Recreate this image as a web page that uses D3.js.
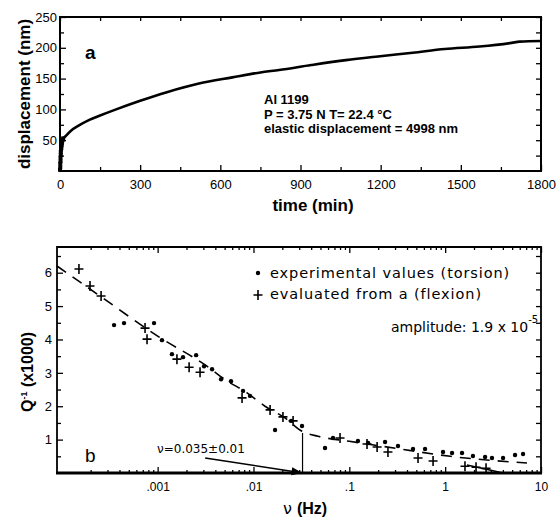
<!DOCTYPE html>
<html><head><meta charset="utf-8">
<script src="https://cdn.jsdelivr.net/npm/d3@7"></script>
<style>body{margin:0;background:#fff}svg{display:block}</style>
</head><body>
<svg id="c" width="558" height="519"></svg>
<script>
// ---------- Panel a : creep curve ----------
const timeMin = [0, 1, 2, 3, 5, 8, 12, 22, 40, 71, 110, 150, 210, 300, 400, 520, 645, 750, 820, 940, 1070, 1190, 1320, 1440, 1570, 1690, 1720, 1800];
const dispNm  = [0, 8, 18, 28, 38, 46, 52, 57, 65, 74, 83, 90, 100, 114, 128, 142, 152, 160, 164, 172, 180, 186, 192, 198, 202, 208, 210, 211];
const earlyTime = [0, 1, 1, 2, 2, 3, 3, 4, 5, 6, 7, 8, 10, 12];
const earlyDisp = [2, 6, 12, 16, 22, 26, 31, 35, 38, 42, 45, 48, 51, 53];
const timeTicks = [0, 300, 600, 900, 1200, 1500, 1800];
const timeMinor = [150, 450, 750, 1050, 1350, 1650];
const dispTicks = [50, 100, 150, 200, 250];
const dispMinor = [25, 75, 125, 175, 225];
const annotLines = ["Al 1199", "P = 3.75 N T= 22.4 °C", "elastic displacement = 4998 nm"];

// ---------- Panel b : internal friction ----------
const torsionFreq = [3.51e-4, 4.46e-4, 9.17e-4, 1.11e-3, 1.41e-3, 1.84e-3, 2.52e-3, 3.05e-3, 3.70e-3, 4.59e-3, 5.83e-3, 7.78e-3, 9.2e-3, 0.0168, 0.0247, 0.0321, 0.0558, 0.0676, 0.123, 0.157, 0.236, 0.322, 0.462, 0.617, 0.95, 1.18, 1.50, 1.95, 2.61, 3.08, 4.02, 5.36, 6.50];
const torsionQ    = [4.43, 4.49, 4.49, 3.98, 3.56, 3.47, 3.53, 3.20, 3.11, 2.81, 2.75, 2.46, 2.31, 1.29, 1.56, 1.41, 0.75, 1.05, 0.96, 0.90, 0.93, 0.81, 0.72, 0.72, 0.63, 0.60, 0.60, 0.51, 0.48, 0.45, 0.45, 0.54, 0.57];
const flexionFreq = [1.51e-4, 1.97e-4, 2.57e-4, 7.39e-4, 7.75e-4, 1.59e-3, 2.13e-3, 2.77e-3, 7.60e-3, 0.0149, 0.0203, 0.0259, 0.080, 0.153, 0.195, 0.253, 0.521, 0.748, 1.61, 2.10, 2.67];
const flexionQ    = [6.11, 5.60, 5.30, 4.34, 4.01, 3.41, 3.17, 3.02, 2.25, 1.89, 1.68, 1.56, 1.05, 0.87, 0.78, 0.63, 0.45, 0.36, 0.20, 0.17, 0.14];
const fitFreq = [8.91e-5, 2.51e-4, 1e-3, 3.27e-3, 5.05e-3, 8.57e-3, 0.0132, 0.0213, 0.0321, 0.0471, 0.1, 0.339, 1.13, 7.14];
const fitQ    = [6.2, 5.3, 4.1, 3.2, 2.8, 2.4, 2.0, 1.65, 1.25, 1.1, 0.95, 0.72, 0.5, 0.3];
const tailFreq = [1.69, 2.61, 4.02];
const tailQ    = [0.24, 0.12, 0.0];
const freqTicks = [0.001, 0.01, 0.1, 1, 10];
const freqTickLabels = [".001", ".01", ".1", "1", "10"];
const qTicks = [1, 2, 3, 4, 5, 6];
const qMinor = [0.5, 1.5, 2.5, 3.5, 4.5, 5.5, 6.5];
const nuFreq = 0.0325, nuTopQ = 1.2;
const arrowStart = [3.13e-3, 0.45];
const legendLabels = ["experimental values (torsion)", "evaluated from a (flexion)"];

const svg = d3.select("#c");
const SANS = "'Liberation Sans', Arial, Helvetica, sans-serif";
const GEN = "'DejaVu Sans', Verdana, sans-serif";

// ===== Panel a =====
const A = {l: 60, r: 541, t: 17, b: 171};
const xa = d3.scaleLinear([0, 1800], [A.l, A.r]);
const ya = d3.scaleLinear([0, 250], [A.b, A.t]);
const ga = svg.append("g");

function styleAxis(g, fs) {
  g.select(".domain").remove();
  g.selectAll(".tick line").attr("stroke", "#000").attr("stroke-width", 1.3);
  g.selectAll("text").attr("font-family", SANS).attr("font-size", fs).attr("fill", "#000");
}
ga.append("g").attr("transform", `translate(0,${A.b})`)
  .call(d3.axisBottom(xa).tickValues(timeTicks).tickSize(-6).tickPadding(9).tickFormat(d3.format("d")))
  .call(g => styleAxis(g, 13));
ga.append("g").attr("transform", `translate(0,${A.b})`)
  .call(d3.axisBottom(xa).tickValues(timeMinor).tickSize(-4).tickFormat(""))
  .call(g => styleAxis(g, 13));
ga.append("g").attr("transform", `translate(0,${A.t})`)
  .call(d3.axisTop(xa).tickValues(timeTicks.concat(timeMinor)).tickSize(-4).tickFormat(""))
  .call(g => styleAxis(g, 13));
ga.append("g").attr("transform", `translate(${A.l},0)`)
  .call(d3.axisLeft(ya).tickValues(dispTicks).tickSize(-6).tickPadding(3).tickFormat(d3.format("d")))
  .call(g => styleAxis(g, 13));
ga.append("g").attr("transform", `translate(${A.l},0)`)
  .call(d3.axisLeft(ya).tickValues(dispMinor).tickSize(-4).tickFormat(""))
  .call(g => styleAxis(g, 13));
ga.append("g").attr("transform", `translate(${A.r},0)`)
  .call(d3.axisRight(ya).tickValues(dispTicks.concat(dispMinor)).tickSize(-5).tickFormat(""))
  .call(g => styleAxis(g, 13));
ga.append("rect").attr("x", A.l).attr("y", A.t).attr("width", A.r - A.l).attr("height", A.b - A.t)
  .attr("fill", "none").attr("stroke", "#000").attr("stroke-width", 2);

const creep = timeMin.map((t, i) => [t, dispNm[i]]);
ga.append("path").datum(creep)
  .attr("d", d3.line().x(d => xa(d[0])).y(d => ya(d[1])).curve(d3.curveMonotoneX))
  .attr("fill", "none").attr("stroke", "#000").attr("stroke-width", 2.6);
ga.selectAll("rect.early").data(earlyTime.map((t, i) => [t, earlyDisp[i]])).join("rect")
  .attr("class", "early")
  .attr("x", d => xa(d[0]) - 2).attr("y", d => ya(d[1]) - 2).attr("width", 4).attr("height", 4)
  .attr("fill", "#000");

ga.append("text").attr("x", 85).attr("y", 59).attr("font-family", SANS).attr("font-weight", "bold")
  .attr("font-size", 19).text("a");
ga.append("g").selectAll("text").data(annotLines).join("text")
  .attr("x", 264).attr("y", (d, i) => 104 + i * 14.5)
  .attr("font-family", SANS).attr("font-weight", "bold").attr("font-size", 13).text(d => d);
ga.append("text").attr("transform", "translate(30,94) rotate(-90)").attr("text-anchor", "middle")
  .attr("font-family", SANS).attr("font-weight", "bold").attr("font-size", 17).text("displacement (nm)");
ga.append("text").attr("x", 313).attr("y", 211).attr("text-anchor", "middle")
  .attr("font-family", SANS).attr("font-weight", "bold").attr("font-size", 17).text("time (min)");

// ===== Panel b =====
const B = {l: 57, r: 541, t: 247, b: 473};
const xb = d3.scaleLog([Math.pow(10, -4.05), 10], [B.l, B.r]);
const yb = d3.scaleLinear([0, 6.77], [B.b, B.t]);
const gb = svg.append("g");

const minorF = [];
for (let e = -4; e <= 0; e++) for (let k = 2; k <= 9; k++) {
  const v = k * Math.pow(10, e);
  if (v > xb.domain()[0] && v < 10) minorF.push(v);
}
gb.append("g").attr("transform", `translate(0,${B.b})`)
  .call(d3.axisBottom(xb).tickValues(freqTicks).tickSize(-6).tickPadding(9)
    .tickFormat((d, i) => freqTickLabels[i]))
  .call(g => styleAxis(g, 12));
gb.append("g").attr("transform", `translate(0,${B.b})`)
  .call(d3.axisBottom(xb).tickValues(minorF).tickSize(-3).tickFormat(""))
  .call(g => styleAxis(g, 12));
gb.append("g").attr("transform", `translate(0,${B.t})`)
  .call(d3.axisTop(xb).tickValues(freqTicks).tickSize(-6).tickFormat(""))
  .call(g => styleAxis(g, 12));
gb.append("g").attr("transform", `translate(0,${B.t})`)
  .call(d3.axisTop(xb).tickValues(minorF).tickSize(-3).tickFormat(""))
  .call(g => styleAxis(g, 12));
gb.append("g").attr("transform", `translate(${B.l},0)`)
  .call(d3.axisLeft(yb).tickValues(qTicks).tickSize(-6).tickPadding(5).tickFormat(d3.format("d")))
  .call(g => styleAxis(g, 13));
gb.append("g").attr("transform", `translate(${B.l},0)`)
  .call(d3.axisLeft(yb).tickValues(qMinor).tickSize(-4).tickFormat(""))
  .call(g => styleAxis(g, 13));
gb.append("g").attr("transform", `translate(${B.r},0)`)
  .call(d3.axisRight(yb).tickValues(qTicks.concat(qMinor)).tickSize(-5).tickFormat(""))
  .call(g => styleAxis(g, 13));
gb.append("path").attr("d", `M${B.l},${B.b}V${B.t}H${B.r}V${B.b}`)
  .attr("fill", "none").attr("stroke", "#000").attr("stroke-width", 1.8);
gb.append("line").attr("x1", B.l - 1).attr("x2", B.r + 1).attr("y1", B.b).attr("y2", B.b)
  .attr("stroke", "#000").attr("stroke-width", 3);

// dashed fit
gb.append("path").datum(fitFreq.map((f, i) => [f, fitQ[i]]))
  .attr("d", d3.line().x(d => xb(d[0])).y(d => yb(d[1])).curve(d3.curveMonotoneX))
  .attr("fill", "none").attr("stroke", "#000").attr("stroke-width", 1.6).attr("stroke-dasharray", "11,8");
// solid tail
gb.append("path").datum(tailFreq.map((f, i) => [f, tailQ[i]]))
  .attr("d", d3.line().x(d => xb(d[0])).y(d => yb(d[1])))
  .attr("fill", "none").attr("stroke", "#000").attr("stroke-width", 1.4);

// torsion dots
gb.selectAll("circle.tor").data(torsionFreq.map((f, i) => [f, torsionQ[i]])).join("circle")
  .attr("class", "tor").attr("cx", d => xb(d[0])).attr("cy", d => yb(d[1])).attr("r", 2.2).attr("fill", "#000");
// flexion crosses
const crossPath = "M-4.5,0H4.5M0,-5V5";
gb.selectAll("path.flex").data(flexionFreq.map((f, i) => [f, flexionQ[i]])).join("path")
  .attr("class", "flex").attr("transform", d => `translate(${xb(d[0])},${yb(d[1])})`)
  .attr("d", crossPath).attr("stroke", "#000").attr("stroke-width", 1.6).attr("fill", "none");

// vertical line + arrow
gb.append("line").attr("x1", xb(nuFreq)).attr("x2", xb(nuFreq)).attr("y1", yb(0)).attr("y2", yb(nuTopQ))
  .attr("stroke", "#000").attr("stroke-width", 1.2);
const ax0 = xb(arrowStart[0]), ay0 = yb(arrowStart[1]), ax1 = xb(nuFreq), ay1 = yb(0);
const ang = Math.atan2(ay1 - ay0, ax1 - ax0);
gb.append("line").attr("x1", ax0).attr("y1", ay0).attr("x2", ax1 - 8 * Math.cos(ang)).attr("y2", ay1 - 8 * Math.sin(ang))
  .attr("stroke", "#000").attr("stroke-width", 1.5);
gb.append("path").attr("transform", `translate(${ax1},${ay1}) rotate(${ang * 180 / Math.PI})`)
  .attr("d", "M0,0L-11,-4L-11,4Z").attr("fill", "#000");
gb.append("text").attr("x", 157).attr("y", 453).attr("font-family", GEN).attr("font-size", 12)
  .text("ν=0.035±0.01");
gb.append("text").attr("x", 85).attr("y", 462).attr("font-family", SANS).attr("font-size", 19).text("b");

// legend
gb.append("circle").attr("cx", 258).attr("cy", 273).attr("r", 2.2).attr("fill", "#000");
gb.append("path").attr("transform", "translate(258,295)").attr("d", crossPath)
  .attr("stroke", "#000").attr("stroke-width", 1.6);
gb.selectAll("text.leg").data(legendLabels).join("text").attr("class", "leg")
  .attr("x", 270).attr("y", (d, i) => 278 + i * 21).attr("font-family", GEN).attr("font-size", 14.5)
  .attr("letter-spacing", 0.9).text(d => d);
const amp = gb.append("text").attr("x", 391).attr("y", 332).attr("font-family", GEN).attr("font-size", 14);
amp.append("tspan").text("amplitude: 1.9 x 10");
amp.append("tspan").attr("dy", -9).attr("font-size", 10).text("-5");

// axis titles
const qt = gb.append("text").attr("transform", "translate(33,372) rotate(-90)").attr("text-anchor", "middle")
  .attr("font-family", SANS).attr("font-weight", "bold").attr("font-size", 16);
qt.append("tspan").text("Q");
qt.append("tspan").attr("dy", -6).attr("font-size", 9).text("-1");
qt.append("tspan").attr("dy", 6).text("  (x1000)");
const nt = gb.append("text").attr("x", 305).attr("y", 514).attr("text-anchor", "middle")
  .attr("font-family", SANS).attr("font-size", 16);
nt.append("tspan").attr("font-family", GEN).text("ν ");
nt.append("tspan").attr("font-weight", "bold").text("(Hz)");
</script>
</body></html>
